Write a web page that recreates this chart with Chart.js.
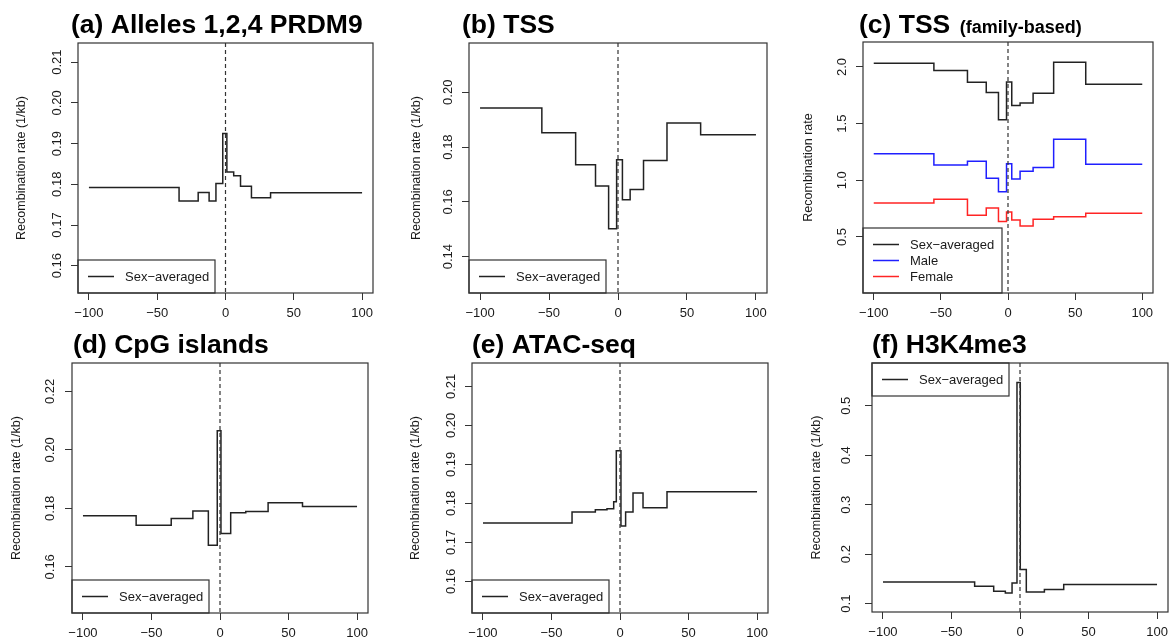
<!DOCTYPE html>
<html>
<head>
<meta charset="utf-8">
<script src="https://cdn.jsdelivr.net/npm/chart.js@4.4.1/dist/chart.umd.min.js"></script>
<style>
  html, body { margin: 0; padding: 0; background: #fff; }
  body { width: 1170px; height: 644px; position: relative; overflow: hidden; }
  canvas { position: absolute; }
</style>
</head>
<body>
<canvas id="pa"></canvas>
<canvas id="pb"></canvas>
<canvas id="pc"></canvas>
<canvas id="pd"></canvas>
<canvas id="pe"></canvas>
<canvas id="pf"></canvas>
<script>
const FONT = "'Liberation Sans', Arial, Helvetica, sans-serif";

// distance from feature (kb), shared x ticks
const xTickLabels = ['-100', '-50', '0', '50', '100'];

// (a) Alleles 1,2,4 PRDM9
const edgesA = [-100, -34, -20, -12, -7, -2, 1, 6, 11, 19, 33, 100];
const rateA = [0.1792, 0.1759, 0.1780, 0.1759, 0.1802, 0.1925, 0.1830, 0.1821, 0.1795, 0.1767, 0.1779];
const yTicksA = ['0.16', '0.17', '0.18', '0.19', '0.20', '0.21'];

// (b) TSS
const edgesB = [-100, -55.2, -30.7, -16.3, -6.8, -1, 3.2, 8.8, 18.5, 35.5, 59.9, 100];
const rateB = [0.1943, 0.1852, 0.1735, 0.1658, 0.1502, 0.1754, 0.1608, 0.1645, 0.1751, 0.1888, 0.1845];
const yTicksB = ['0.14', '0.16', '0.18', '0.20'];

// (c) TSS family-based
const edgesC = [-100, -55.2, -30.2, -16.2, -7.1, -1.1, 2.8, 9, 18.7, 34, 57.9, 100];
const sexAvgC = [2.032, 1.968, 1.865, 1.774, 1.535, 1.867, 1.659, 1.681, 1.768, 2.041, 1.847];
const maleC = [1.235, 1.135, 1.169, 1.018, 0.899, 1.147, 1.012, 1.080, 1.112, 1.362, 1.141];
const femaleC = [0.800, 0.832, 0.691, 0.756, 0.636, 0.720, 0.650, 0.597, 0.656, 0.679, 0.709];
const yTicksC = ['0.5', '1.0', '1.5', '2.0'];

// (d) CpG islands
const edgesD = [-100, -61.2, -35.6, -19.8, -8.5, -2, 0.7, 7.8, 18.8, 35.1, 60.2, 100];
const rateD = [0.1775, 0.1742, 0.1765, 0.1791, 0.1674, 0.2065, 0.1714, 0.1785, 0.1789, 0.1819, 0.1806];
const yTicksD = ['0.16', '0.18', '0.20', '0.22'];

// (e) ATAC-seq
const edgesE = [-100, -35, -18, -9.5, -4.6, -2.7, 0.7, 4.1, 9.5, 16.8, 34.3, 100];
const rateE = [0.1750, 0.1778, 0.1784, 0.1786, 0.1804, 0.1935, 0.1742, 0.1778, 0.1827, 0.1789, 0.1830];
const yTicksE = ['0.16', '0.17', '0.18', '0.19', '0.20', '0.21'];

// (f) H3K4me3
const edgesF = [-100, -33.1, -19.2, -10.7, -5.8, -2.2, 0.2, 4.6, 17.8, 31.9, 100];
const rateF = [0.1439, 0.1351, 0.1250, 0.1216, 0.1419, 0.5473, 0.1690, 0.1236, 0.1284, 0.1385];
const yTicksF = ['0.1', '0.2', '0.3', '0.4', '0.5'];

const SEX = 'Sex\u2212averaged';
const YT = 'Recombination rate (1/kb)';

// cell = [left, top, w, h] of the canvas, box = [L, T, R, B] of the plot frame (page px)
const panels = [
  { id: 'pa', title: '(a) Alleles 1,2,4 PRDM9', cell: [0, 0, 390, 340], box: [78, 43, 373, 293], titleX: 71,
    yMin: 0.1533, yMax: 0.2147, yTicks: yTicksA, yTitle: YT, labGap: 17, titleGap: 56, edges: edgesA,
    series: [{ label: SEX, data: rateA, color: '#222' }], legendAt: 'bottom' },
  { id: 'pb', title: '(b) TSS', cell: [390, 0, 390, 340], box: [469, 43, 767, 293], titleX: 462,
    yMin: 0.1267, yMax: 0.218, yTicks: yTicksB, yTitle: YT, labGap: 17, titleGap: 52, edges: edgesB,
    series: [{ label: SEX, data: rateB, color: '#222' }], legendAt: 'bottom' },
  { id: 'pc', title: '(c) TSS', sub: '(family-based)', cell: [780, 0, 390, 340], box: [863, 42, 1153, 293], titleX: 859,
    yMin: 0.006, yMax: 2.22, yTicks: yTicksC, yTitle: 'Recombination rate', labGap: 17, titleGap: 54, edges: edgesC,
    series: [{ label: SEX, data: sexAvgC, color: '#222' },
             { label: 'Male', data: maleC, color: '#1f1fff' },
             { label: 'Female', data: femaleC, color: '#ff2424' }], legendAt: 'bottom' },
  { id: 'pd', title: '(d) CpG islands', cell: [0, 320, 390, 324], box: [72, 363, 368, 613], titleX: 73,
    yMin: 0.1442, yMax: 0.2297, yTicks: yTicksD, yTitle: YT, labGap: 18, titleGap: 55, edges: edgesD,
    series: [{ label: SEX, data: rateD, color: '#222' }], legendAt: 'bottom' },
  { id: 'pe', title: '(e) ATAC-seq', cell: [390, 320, 390, 324], box: [472, 363, 768, 613], titleX: 472,
    yMin: 0.1519, yMax: 0.216, yTicks: yTicksE, yTitle: YT, labGap: 17, titleGap: 56, edges: edgesE,
    series: [{ label: SEX, data: rateE, color: '#222' }], legendAt: 'bottom' },
  { id: 'pf', title: '(f) H3K4me3', cell: [780, 320, 390, 324], box: [872, 363, 1168, 612], titleX: 872,
    yMin: 0.0831, yMax: 0.5865, yTicks: yTicksF, yTitle: YT, labGap: 22, titleGap: 55, edges: edgesF,
    series: [{ label: SEX, data: rateF, color: '#222' }], legendAt: 'top' }
];

const decor = {
  id: 'decor',
  afterDatasetsDraw(chart, args, opts) {
    const p = opts.panel;
    const ctx = chart.ctx;
    const a = chart.chartArea;
    const xs = chart.scales.x, ys = chart.scales.y;
    ctx.save();

    // dashed line at 0
    const x0 = xs.getPixelForValue(0);
    ctx.strokeStyle = '#333';
    ctx.lineWidth = 1.2;
    ctx.setLineDash([4, 3]);
    ctx.beginPath();
    ctx.moveTo(x0, a.top);
    ctx.lineTo(x0, a.bottom);
    ctx.stroke();
    ctx.setLineDash([]);

    // legend box
    const n = p.series.length;
    const lw = n > 1 ? 139 : 137;
    const lh = 17 + 16 * n;
    const ly = p.legendAt === 'top' ? a.top : a.bottom - lh;
    ctx.fillStyle = '#fff';
    ctx.fillRect(a.left, ly, lw, lh);
    ctx.strokeStyle = '#333';
    ctx.lineWidth = 1.2;
    ctx.strokeRect(a.left, ly, lw, lh);
    ctx.font = '13px ' + FONT;
    ctx.textBaseline = 'middle';
    ctx.textAlign = 'left';
    p.series.forEach((s, i) => {
      const cy = ly + 16.5 + 16 * i;
      ctx.strokeStyle = s.color;
      ctx.lineWidth = 1.5;
      ctx.beginPath();
      ctx.moveTo(a.left + 10, cy);
      ctx.lineTo(a.left + 36, cy);
      ctx.stroke();
      ctx.fillStyle = '#1a1a1a';
      ctx.fillText(s.label, a.left + 47, cy + 0.5);
    });

    // frame
    ctx.strokeStyle = '#333';
    ctx.lineWidth = 1.2;
    ctx.strokeRect(a.left, a.top, a.right - a.left, a.bottom - a.top);

    // y tick labels, parallel to the axis
    ctx.fillStyle = '#1a1a1a';
    ctx.font = '13px ' + FONT;
    ctx.textAlign = 'center';
    ctx.textBaseline = 'alphabetic';
    p.yTicks.forEach(t => {
      const y = ys.getPixelForValue(parseFloat(t));
      ctx.save();
      ctx.translate(a.left - p.labGap, y);
      ctx.rotate(-Math.PI / 2);
      ctx.fillText(t, 0, 0);
      ctx.restore();
    });

    // y axis title
    ctx.save();
    ctx.font = '12.5px ' + FONT;
    ctx.textBaseline = 'middle';
    ctx.translate(a.left - p.titleGap, (a.top + a.bottom) / 2);
    ctx.rotate(-Math.PI / 2);
    ctx.fillText(p.yTitle, 0, 0);
    ctx.restore();

    // panel title
    ctx.fillStyle = '#000';
    ctx.textAlign = 'left';
    ctx.textBaseline = 'alphabetic';
    ctx.font = 'bold 26.5px ' + FONT;
    const tx = p.titleX - p.cell[0];
    ctx.fillText(p.title, tx, 33);
    if (p.sub) {
      const w = ctx.measureText(p.title + ' ').width;
      ctx.font = 'bold 18px ' + FONT;
      ctx.fillText(p.sub, tx + w + 2, 33);
    }
    ctx.restore();
  }
};

panels.forEach(p => {
  const cv = document.getElementById(p.id);
  const [cl, ct, cw, chh] = p.cell;
  cv.width = cw;
  cv.height = chh;
  cv.style.left = cl + 'px';
  cv.style.top = ct + 'px';
  cv.style.width = cw + 'px';
  cv.style.height = chh + 'px';

  new Chart(cv.getContext('2d'), {
    type: 'line',
    data: {
      datasets: p.series.map(s => ({
        label: s.label,
        data: p.edges.map((x, i) => ({ x: x, y: s.data[Math.min(i, s.data.length - 1)] })),
        borderColor: s.color,
        borderWidth: 1.5,
        pointRadius: 0,
        stepped: true,
        fill: false
      }))
    },
    options: {
      responsive: false,
      animation: false,
      devicePixelRatio: 1,
      layout: { padding: { left: 0, top: p.box[1] - ct, right: cl + cw - p.box[2], bottom: 0 } },
      plugins: {
        legend: { display: false },
        tooltip: { enabled: false },
        decor: { panel: p }
      },
      scales: {
        x: {
          type: 'linear',
          min: -108,
          max: 108,
          afterBuildTicks: s => { s.ticks = xTickLabels.map(t => ({ value: parseFloat(t) })); },
          afterFit: s => {
            s.height = ct + chh - p.box[3];
            s.paddingLeft = 0;
            s.paddingRight = 0;
          },
          grid: { drawOnChartArea: false, drawTicks: true, tickLength: 7, color: '#333', lineWidth: 1 },
          border: { display: false },
          ticks: {
            padding: 6,
            color: '#1a1a1a',
            autoSkip: false,
            maxRotation: 0,
            font: { family: FONT, size: 13 },
            callback: (v, i) => xTickLabels[i].replace('-', '\u2212')
          }
        },
        y: {
          type: 'linear',
          min: p.yMin,
          max: p.yMax,
          afterBuildTicks: s => { s.ticks = p.yTicks.map(t => ({ value: parseFloat(t) })); },
          afterFit: s => {
            s.width = p.box[0] - cl;
            s.paddingTop = 0;
            s.paddingBottom = 0;
          },
          grid: { drawOnChartArea: false, drawTicks: true, tickLength: 7, color: '#333', lineWidth: 1 },
          border: { display: false },
          ticks: { display: false }
        }
      }
    },
    plugins: [decor]
  });
});
</script>
</body>
</html>
